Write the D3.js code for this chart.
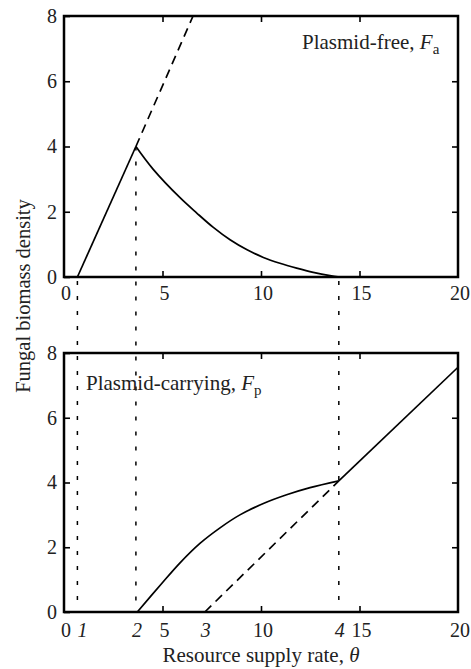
<!DOCTYPE html>
<html>
<head>
<meta charset="utf-8">
<script src="https://cdn.jsdelivr.net/npm/d3@7"></script>
<style>
  body { margin: 0; background: #fff; }
  svg { font-family: "Liberation Serif", "DejaVu Serif", serif; }
</style>
</head>
<body>
<div id="chart"></div>
<script>
// values
const xTicks = [0, 5, 10, 15, 20];
const yTicks = [0, 2, 4, 6, 8];

// plasmid-free panel
const freeRise = [[0.68, 0], [3.65, 4]];
const freeRiseDash = [[3.65, 4], [6.55, 8]];
const freeDecay = [[3.65, 4], [4.53, 3.3], [5.89, 2.43], [6.74, 1.96], [7.58, 1.52], [8.43, 1.14],
  [9.27, 0.84], [10.12, 0.60], [10.96, 0.42], [11.81, 0.27], [12.65, 0.14], [13.5, 0.04], [14.0, 0]];

// plasmid-carrying panel
const carryCurve = [[3.72, 0], [4.96, 0.88], [5.89, 1.52], [6.9, 2.12], [7.92, 2.6], [8.93, 3.0],
  [10.12, 3.35], [11.3, 3.62], [12.49, 3.84], [13.95, 4.05]];
const carryLine = [[13.95, 4.05], [20, 7.56]];
const carryDash = [[7.15, 0], [13.95, 4.05]];

// threshold markers: x position, height where they start in top panel, label
const thresholds = [
  { x: 0.68, from: 0, label: "1" },
  { x: 3.65, from: 4, label: "2" },
  { x: 7.15, from: null, label: "3" },
  { x: 13.95, from: 0, label: "4" }
];

const W = 471, H = 669;
const left = 64, right = 458;
const top1 = 16, bot1 = 277;
const top2 = 353, bot2 = 612;

const svg = d3.select("#chart").append("svg")
  .attr("width", W).attr("height", H);

const x = d3.scaleLinear().domain([0, 20]).range([left, right]);
const y1 = d3.scaleLinear().domain([0, 8]).range([bot1, top1]);
const y2 = d3.scaleLinear().domain([0, 8]).range([bot2, top2]);

function panel(y, yb, yt, labelPad) {
  const g = svg.append("g");
  // inward ticks on all four sides
  g.append("g").attr("transform", "translate(0," + yb + ")")
    .call(d3.axisBottom(x).tickValues(xTicks.slice(1, -1)).tickSize(-6).tickFormat(""));
  g.append("g").attr("transform", "translate(0," + yt + ")")
    .call(d3.axisTop(x).tickValues(xTicks.slice(1, -1)).tickSize(-6).tickFormat(""));
  g.append("g").attr("transform", "translate(" + left + ",0)")
    .call(d3.axisLeft(y).tickValues(yTicks).tickSize(-6).tickPadding(7));
  g.append("g").attr("transform", "translate(" + right + ",0)")
    .call(d3.axisRight(y).tickValues(yTicks.slice(1, -1)).tickSize(-6).tickFormat(""));
  g.selectAll(".domain").remove();
  g.selectAll(".tick line").attr("stroke", "#000").attr("stroke-width", 1.6);
  g.selectAll("text").attr("font-size", 20).attr("fill", "#222").style("font-family", "Liberation Serif");
  // x tick labels
  g.selectAll(".xl").data(xTicks).join("text")
    .attr("x", d => x(d) + 2).attr("y", yb + labelPad)
    .attr("dy", "0.71em").attr("text-anchor", "middle")
    .attr("font-size", 20).attr("fill", "#222")
    .text(d => d);
  // frame
  g.append("rect").attr("x", left).attr("y", yt)
    .attr("width", right - left).attr("height", yb - yt)
    .attr("fill", "none").attr("stroke", "#000").attr("stroke-width", 2.5);
  return g;
}

panel(y1, bot1, top1, 9);
panel(y2, bot2, top2, 11);

const line1 = d3.line().x(d => x(d[0])).y(d => y1(d[1]));
const line2 = d3.line().x(d => x(d[0])).y(d => y2(d[1]));
const curve1 = d3.line().x(d => x(d[0])).y(d => y1(d[1])).curve(d3.curveCatmullRom.alpha(0.5));
const curve2 = d3.line().x(d => x(d[0])).y(d => y2(d[1])).curve(d3.curveCatmullRom.alpha(0.5));

function path(data, gen, dash) {
  svg.append("path").datum(data).attr("d", gen)
    .attr("fill", "none").attr("stroke", "#000").attr("stroke-width", 1.7)
    .attr("stroke-dasharray", dash || null);
}

// dotted threshold lines
thresholds.filter(t => t.from !== null).forEach(t => {
  svg.append("line")
    .attr("x1", x(t.x)).attr("x2", x(t.x))
    .attr("y1", y1(t.from) + (t.from === 0 ? 4 : 0)).attr("y2", y2(0) - 4)
    .attr("stroke", "#000").attr("stroke-width", 1.5)
    .attr("stroke-dasharray", "4,11");
});

path(freeRise, line1);
path(freeRiseDash, line1, "9,6");
path(freeDecay, curve1);

path(carryCurve, curve2);
path(carryLine, line2);
path(carryDash, line2, "9,6");

// italic threshold numbers under the lower axis
svg.selectAll(".thr").data(thresholds).join("text")
  .attr("x", d => x(d.x) + (d.label === "1" ? 5 : 1)).attr("y", bot2 + 11)
  .attr("dy", "0.71em").attr("text-anchor", "middle")
  .attr("font-size", 20).attr("font-style", "italic").attr("fill", "#222")
  .text(d => d.label);

// panel labels
const t1 = svg.append("text").attr("x", 302).attr("y", 49)
  .attr("font-size", 21).attr("fill", "#222");
t1.append("tspan").text("Plasmid-free, ");
t1.append("tspan").attr("font-style", "italic").text("F");
t1.append("tspan").attr("font-size", 15).attr("dy", 5).text("a");

const t2 = svg.append("text").attr("x", 86).attr("y", 390)
  .attr("font-size", 21).attr("fill", "#222");
t2.append("tspan").text("Plasmid-carrying, ");
t2.append("tspan").attr("font-style", "italic").text("F");
t2.append("tspan").attr("font-size", 15).attr("dy", 5).text("p");

// axis titles
svg.append("text")
  .attr("transform", "translate(30,296) rotate(-90)")
  .attr("text-anchor", "middle").attr("font-size", 20.5).attr("fill", "#222")
  .text("Fungal biomass density");

const xt = svg.append("text").attr("x", 261).attr("y", 662)
  .attr("text-anchor", "middle").attr("font-size", 21).attr("fill", "#222");
xt.append("tspan").text("Resource supply rate, ");
xt.append("tspan").attr("font-style", "italic").text("θ");
</script>
</body>
</html>
